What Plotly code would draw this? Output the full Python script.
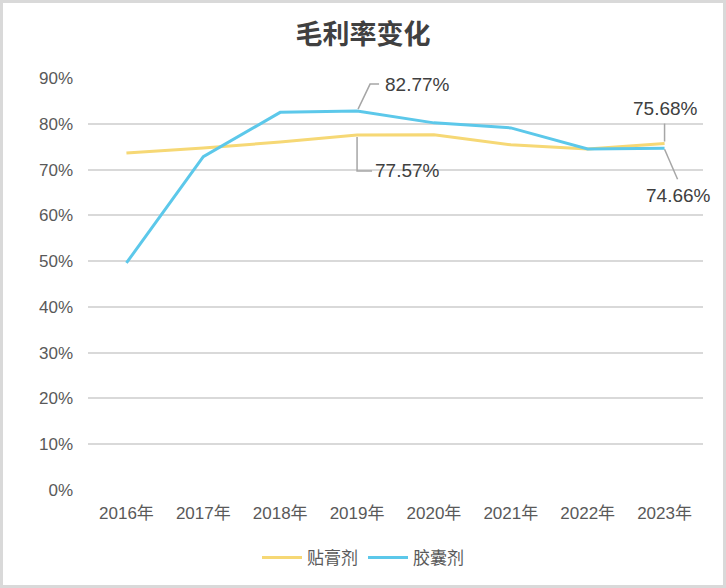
import plotly.graph_objects as go

years = ["2016年", "2017年", "2018年", "2019年", "2020年", "2021年", "2022年", "2023年"]
tiegao = [0.736, 0.747, 0.760, 0.7757, 0.776, 0.754, 0.745, 0.7568]
jiaonang = [0.496, 0.728, 0.825, 0.8277, 0.802, 0.791, 0.745, 0.7466]
series_names = ["贴膏剂", "胶囊剂"]
yticks = [0, 0.1, 0.2, 0.3, 0.4, 0.5, 0.6, 0.7, 0.8, 0.9]

YELLOW = "#F6D875"
BLUE = "#5CC8EA"
FONT = "Liberation Sans, Noto Sans CJK SC, sans-serif"

fig = go.Figure()
fig.add_trace(go.Scatter(x=years, y=tiegao, name=series_names[0], mode="lines",
                         line=dict(color=YELLOW, width=3)))
fig.add_trace(go.Scatter(x=years, y=jiaonang, name=series_names[1], mode="lines",
                         line=dict(color=BLUE, width=3)))

W, H = 726, 588
L, R, T, B = 88, 23, 78, 98
pw, ph = W - L - R, H - T - B

def px_x(p):
    return (p - L) / pw

def px_y(p):
    return (T + ph - p) / ph

shapes = [dict(type="rect", xref="paper", yref="paper",
               x0=px_x(1.5), x1=px_x(W - 1.5), y0=px_y(H - 1.5), y1=px_y(1.5),
               line=dict(color="#d9d9d9", width=3), layer="above")]

def leader(xcat, yval, path):
    shapes.append(dict(type="path", xref="x", yref="y", xsizemode="pixel", ysizemode="pixel",
                       xanchor=xcat, yanchor=yval, path=path,
                       line=dict(color="#a6a6a6", width=1.5)))

leader(years[3], jiaonang[3], "M1,2 L13,27 L22,27")
leader(years[3], tiegao[3], "M0,-2 L0,-36 L15,-36")
leader(years[7], tiegao[7], "M0,2 L0,20")
leader(years[7], jiaonang[7], "M0,-1 L13,-31")

ann_font = dict(family=FONT, size=19, color="#404040")
annotations = [
    dict(x=years[3], y=jiaonang[3], text=f"{jiaonang[3]*100:.2f}%", showarrow=False,
         xanchor="left", yanchor="middle", xshift=26, yshift=27, font=ann_font),
    dict(x=years[3], y=tiegao[3], text=f"{tiegao[3]*100:.2f}%", showarrow=False,
         xanchor="left", yanchor="middle", xshift=16, yshift=-36, font=ann_font),
    dict(x=years[7], y=tiegao[7], text=f"{tiegao[7]*100:.2f}%", showarrow=False,
         xanchor="center", yanchor="middle", xshift=1, yshift=35, font=ann_font),
    dict(x=years[7], y=jiaonang[7], text=f"{jiaonang[7]*100:.2f}%", showarrow=False,
         xanchor="center", yanchor="middle", xshift=14, yshift=-47, font=ann_font),
]

fig.update_layout(
    width=W, height=H,
    margin=dict(l=L, r=R, t=T, b=B, autoexpand=False),
    paper_bgcolor="white", plot_bgcolor="white",
    title=dict(text="<b>毛利率变化</b>", x=0.5, xref="container", xanchor="center",
               y=1 - 35 / H, yanchor="middle",
               font=dict(family=FONT, size=27, color="#404040")),
    font=dict(family=FONT, color="#595959"),
    xaxis=dict(type="category", range=[-0.5, 7.5], showgrid=False, showline=False, ticks="",
               tickfont=dict(size=17, color="#595959"), ticklabelstandoff=11),
    yaxis=dict(range=[0, 0.9], tickvals=yticks, tickformat=".0%", showgrid=True,
               gridcolor="#d9d9d9", gridwidth=1.5, zeroline=False, showline=False,
               ticks="", tickfont=dict(size=17, color="#595959"), ticklabelstandoff=14),
    legend=dict(orientation="h", x=0.5, xref="container",
                xanchor="center", y=1 - 558 / H, yref="container", yanchor="middle",
                font=dict(size=17, color="#595959"), itemwidth=40, tracegroupgap=0),
    shapes=shapes,
    annotations=annotations,
    showlegend=True,
)

fig.write_html("out.html", config={"displayModeBar": False},
               post_script="document.body.style.margin='0';document.body.style.overflow='hidden';")
